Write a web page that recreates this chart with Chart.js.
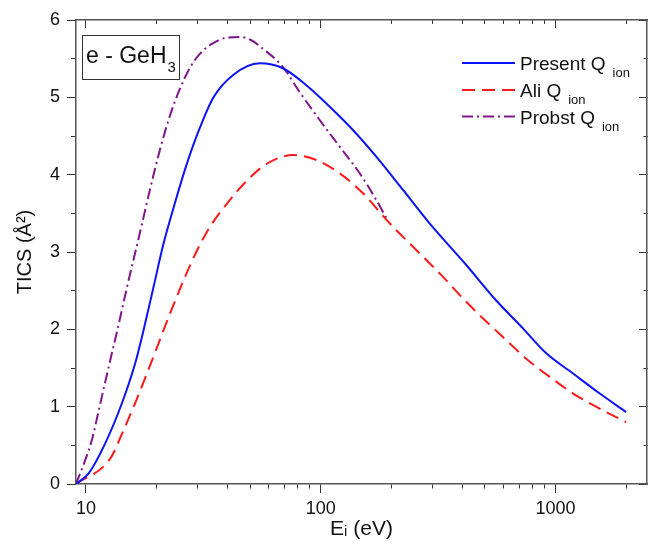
<!DOCTYPE html>
<html lang="en">
<head>
  <meta charset="UTF-8">
  <title>e - GeH3 TICS</title>
  <style>
    html, body { margin: 0; padding: 0; background: #fff; overflow: hidden; }
    #wrap { width: 648px; height: 545px; }
  </style>
</head>
<body>
  <div id="wrap"><canvas id="chart" width="648" height="545"></canvas></div>

  <script src="https://cdn.jsdelivr.net/npm/chart.js"></script>
  <script>
    // values
    const presentE = [9.07, 10.27, 12.08, 14.23, 16.21, 17.6, 19.38, 21.33, 23.92, 26.64, 29.97, 34.81, 42.36, 55.0, 69.0, 86.6, 109.3, 137.2, 172.5, 224.3, 291, 417, 557, 727, 914, 1185, 1540, 2000];
    const presentQ = [0, 0.138, 0.526, 1.044, 1.561, 1.991, 2.54, 3.09, 3.63, 4.10, 4.539, 4.992, 5.289, 5.44, 5.376, 5.16, 4.879, 4.578, 4.233, 3.802, 3.371, 2.832, 2.379, 2.013, 1.69, 1.432, 1.173, 0.93];

    const aliE = [9.07, 12.69, 14.23, 16.21, 17.88, 20.25, 22.77, 25.87, 29.38, 33.71, 41.02, 48.3, 58.74, 76.2, 95.9, 120.5, 151.4, 196.7, 255.4, 331.4, 403.3, 490.6, 617, 762, 943, 1185, 1490, 2000];
    const aliQ = [0, 0.328, 0.647, 1.047, 1.371, 1.797, 2.198, 2.612, 2.987, 3.323, 3.673, 3.918, 4.138, 4.254, 4.19, 4.018, 3.759, 3.371, 3.026, 2.681, 2.401, 2.143, 1.862, 1.603, 1.388, 1.173, 1.0, 0.8];

    const probstE = [9.07, 9.93, 10.6, 11.32, 12.08, 12.9, 13.55, 14.9, 16.97, 18.72, 20.65, 22.77, 25.12, 27.7, 30.55, 34.4, 40.2, 45.3, 49.96, 56.9, 69.0, 81.3, 99.0, 120.5, 146.6, 172.5, 190.3];
    const probstQ = [0, 0.31, 0.569, 0.944, 1.319, 1.694, 1.966, 2.522, 3.246, 3.802, 4.319, 4.759, 5.108, 5.38, 5.561, 5.69, 5.774, 5.78, 5.748, 5.625, 5.393, 5.069, 4.707, 4.362, 4.018, 3.673, 3.44];

    const seriesNames = ['Present Q', 'Ali Q', 'Probst Q'];
    const xTicks = [10, 20, 30, 40, 50, 60, 70, 80, 90, 100, 200, 300, 400, 500, 600, 700, 800, 900, 1000, 2000];
    const xLabels = [10, 100, 1000];
    const xMin = 9.07, xMax = 2455;

    const FONT = "'Liberation Sans', Arial, sans-serif";
    Chart.defaults.font.family = FONT;
    Chart.defaults.color = '#111';

    function toPoints(xs, ys) {
      return xs.map((x, i) => ({ x: x, y: ys[i] }));
    }

    // minor ticks get a dash so they come out about half as long as the major ones
    function isMajorX(ctx) { return ctx.tick && xLabels.includes(ctx.tick.value); }
    function isMajorY(ctx) { return ctx.tick && Number.isInteger(ctx.tick.value); }
    const outFromBorder = [4, 50];     // line drawn border -> end
    const outToBorder = [0, 4, 4, 50]; // line drawn end -> border

    const axisColor = '#555';

    function rich(ctx, x, y, parts) {
      parts.forEach(p => {
        ctx.font = p.size + 'px ' + FONT;
        const px = x + (p.dx || 0);
        ctx.fillText(p.t, px, y + (p.dy || 0));
        x = px + ctx.measureText(p.t).width;
      });
    }

    const textPlugin = {
      id: 'texts',
      afterDraw(chart) {
        const ctx = chart.ctx;
        ctx.save();
        ctx.fillStyle = '#111';
        ctx.textBaseline = 'alphabetic';
        ctx.textAlign = 'left';

        // label box
        ctx.strokeStyle = '#333';
        ctx.lineWidth = 1;
        ctx.strokeRect(82.5, 35.5, 97, 44);
        rich(ctx, 86, 63, [{ t: 'e - GeH', size: 23 }, { t: '3', size: 15, dy: 9, dx: 1 }]);

        // legend
        const rows = [70, 97, 123.5];
        chart.data.datasets.forEach((ds, i) => {
          const y = rows[i];
          ctx.beginPath();
          ctx.strokeStyle = ds.borderColor;
          ctx.lineWidth = ds.borderWidth;
          ctx.setLineDash(ds.borderDash || []);
          ctx.moveTo(462, y - 7);
          ctx.lineTo(515, y - 7);
          ctx.stroke();
          ctx.setLineDash([]);
          rich(ctx, 520, y, [{ t: seriesNames[i], size: 19 }, { t: 'ion', size: 13, dy: 7, dx: 7 }]);
        });
        ctx.restore();
      }
    };

    new Chart(document.getElementById('chart'), {
      type: 'line',
      data: {
        datasets: [
          {
            label: 'Present Q ion',
            data: toPoints(presentE, presentQ),
            borderColor: '#0a14f5',
            borderWidth: 2,
            pointRadius: 0,
            cubicInterpolationMode: 'monotone'
          },
          {
            label: 'Ali Q ion',
            data: toPoints(aliE, aliQ),
            borderColor: '#ff1a1a',
            borderWidth: 2,
            borderDash: [13, 7],
            pointRadius: 0,
            cubicInterpolationMode: 'monotone'
          },
          {
            label: 'Probst Q ion',
            data: toPoints(probstE, probstQ),
            borderColor: '#80168c',
            borderWidth: 2,
            borderDash: [11, 4, 2, 4],
            pointRadius: 0,
            cubicInterpolationMode: 'monotone'
          }
        ]
      },
      options: {
        responsive: false,
        devicePixelRatio: 1,
        animation: false,
        layout: { padding: 0 },
        plugins: { legend: { display: false }, tooltip: { enabled: false } },
        scales: {
          x: {
            type: 'logarithmic',
            position: 'bottom',
            min: xMin,
            max: xMax,
            afterBuildTicks: s => { s.ticks = xTicks.map(v => ({ value: v })); },
            afterFit: s => { s.height = 61; },
            border: { display: true, color: axisColor, width: 1.5 },
            grid: {
              drawOnChartArea: false,
              tickLength: 9,
              tickColor: '#333',
              tickWidth: 1,
              tickBorderDash: ctx => isMajorX(ctx) ? [] : outFromBorder
            },
            ticks: {
              autoSkip: false,
              maxRotation: 0,
              padding: 5,
              font: { size: 18 },
              callback: v => xLabels.includes(v) ? String(v) : ''
            },
            title: {
              display: true,
              text: 'Eᵢ (eV)',
              font: { size: 21 },
              padding: { top: 0, bottom: 3 }
            }
          },
          x2: {
            type: 'logarithmic',
            position: 'top',
            min: xMin,
            max: xMax,
            afterBuildTicks: s => { s.ticks = xTicks.map(v => ({ value: v })); },
            afterFit: s => { s.height = 20; },
            border: { display: true, color: axisColor, width: 1.5 },
            grid: {
              drawOnChartArea: false,
              tickLength: -8,
              tickColor: '#333',
              tickWidth: 1,
              tickBorderDash: ctx => isMajorX(ctx) ? [] : outToBorder
            },
            ticks: { display: false }
          },
          y: {
            type: 'linear',
            position: 'left',
            min: 0,
            max: 6,
            afterFit: s => { s.width = 76; },
            border: { display: true, color: axisColor, width: 1.5 },
            grid: {
              drawOnChartArea: false,
              tickLength: 9,
              tickColor: '#333',
              tickWidth: 1,
              tickBorderDash: ctx => isMajorY(ctx) ? [] : outToBorder
            },
            ticks: {
              stepSize: 0.5,
              autoSkip: false,
              padding: 7,
              font: { size: 18 },
              callback: v => Number.isInteger(v) ? String(v) : ''
            },
            title: {
              display: true,
              text: 'TICS (Å²)',
              font: { size: 20 },
              padding: { top: 13, bottom: 0 }
            }
          },
          y2: {
            type: 'linear',
            position: 'right',
            min: 0,
            max: 6,
            afterFit: s => { s.width = 1; },
            border: { display: true, color: axisColor, width: 1.5 },
            grid: {
              drawOnChartArea: false,
              tickLength: -8,
              tickColor: '#333',
              tickWidth: 1,
              tickBorderDash: ctx => isMajorY(ctx) ? [] : outFromBorder
            },
            ticks: { display: false, stepSize: 0.5 }
          }
        }
      },
      plugins: [textPlugin]
    });
  </script>
</body>
</html>
